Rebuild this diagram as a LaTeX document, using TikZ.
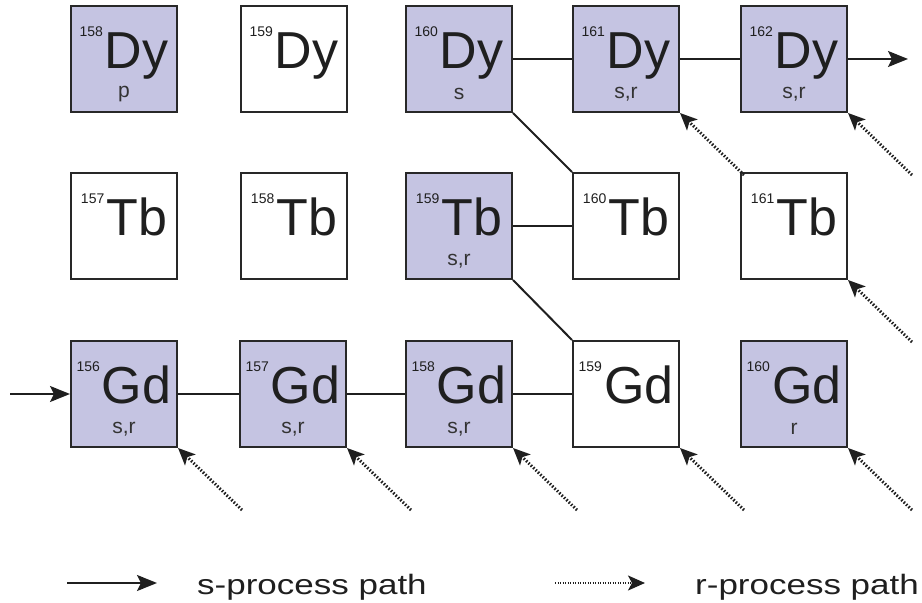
\documentclass[tikz,border=0pt]{standalone}
\usepackage{fontspec}
\setmainfont{Liberation Sans}
\usetikzlibrary{arrows.meta, calc}
\definecolor{lav}{RGB}{197,196,226}
\definecolor{edge}{RGB}{40,40,40}
\newcommand{\mass}[1]{\raisebox{32pt}{\fontsize{14}{14}\selectfont #1}\hspace{2pt}}

\tikzset{
  nuc/.style={draw=edge, line width=2pt, minimum width=106pt, minimum height=106pt,
    inner sep=0pt, text height=38pt, text depth=18pt, font=\fontsize{52}{52}\selectfont, text=black!88},
  stable/.style={nuc, fill=lav},
  proc/.style={anchor=base, yshift=-35pt, font=\fontsize{21}{21}\selectfont, text=black!80},
  spath/.style={line width=2pt, draw=black!88},
  sarrow/.style={spath, -{Stealth[length=20pt,width=16pt,inset=4pt]}},
  rpath/.style={line width=3pt, draw=black!88, dash pattern=on 1.5pt off 1.8pt,
    -{Stealth[length=17pt,width=15pt,inset=4pt]}},
  legtext/.style={anchor=base west, inner sep=0pt, font=\fontsize{28}{28}\selectfont, text=black!88}
}

\begin{document}
\begin{tikzpicture}[x=1pt,y=1pt]
\useasboundingbox (0,0) rectangle (922,603);
% dysprosium
\node[stable, label={[proc]center:p}] (dy158) at (124,544) {\mass{158}Dy};
\node[nuc] (dy159) at (294,544) {\mass{159}Dy};
\node[stable, label={[proc]center:s}] (dy160) at (459,544) {\mass{160}Dy};
\node[stable, label={[proc]center:{s,r}}] (dy161) at (626,544) {\mass{161}Dy};
\node[stable, label={[proc]center:{s,r}}] (dy162) at (794,544) {\mass{162}Dy};
% terbium
\node[nuc] (tb157) at (124,377) {\mass{157}Tb};
\node[nuc] (tb158) at (294,377) {\mass{158}Tb};
\node[stable, label={[proc]center:{s,r}}] (tb159) at (459,377) {\mass{159}Tb};
\node[nuc] (tb160) at (626,377) {\mass{160}Tb};
\node[nuc] (tb161) at (794,377) {\mass{161}Tb};
% gadolinium
\node[stable, label={[proc]center:{s,r}}] (gd156) at (124,209) {\mass{156}Gd};
\node[stable, label={[proc]center:{s,r}}] (gd157) at (293,209) {\mass{157}Gd};
\node[stable, label={[proc]center:{s,r}}] (gd158) at (459,209) {\mass{158}Gd};
\node[nuc] (gd159) at (626,209) {\mass{159}Gd};
\node[stable, label={[proc]center:r}] (gd160) at (794,209) {\mass{160}Gd};

% s-process path
\coordinate (sin) at (10,209);
\coordinate (sout) at (908,544);
\draw[sarrow] (sin) -- (gd156);
\draw[spath] (gd156) -- (gd157);
\draw[spath] (gd157) -- (gd158);
\draw[spath] (gd158) -- (gd159);
\draw[spath] (gd159.north west) -- (tb159.south east);
\draw[spath] (tb159) -- (tb160);
\draw[spath] (tb160.north west) -- (dy160.south east);
\draw[spath] (dy160) -- (dy161);
\draw[spath] (dy161) -- (dy162);
\draw[sarrow] (dy162) -- (sout);

% r-process feeding
\foreach \n in {gd156,gd157,gd158,gd159,gd160,tb161,dy161,dy162} {
  \coordinate (r\n) at ($(\n.south east)+(64,-62)$);
  \draw[rpath] (r\n) -- (\n.south east);
}

% legend
\coordinate (sa) at (67,20);
\coordinate (sb) at (157,20);
\coordinate (ra) at (555,20);
\coordinate (rb) at (645,20);
\draw[sarrow] (sa) -- (sb);
\draw[rpath, line width=2pt, dash pattern=on 1.2pt off 1.3pt] (ra) -- (rb);
\node[legtext] (skey) at (197,8) {\scalebox{1.25}[1]{s-process path}};
\node[legtext] (rkey) at (695,8) {\scalebox{1.25}[1]{r-process path}};
\end{tikzpicture}
\end{document}
